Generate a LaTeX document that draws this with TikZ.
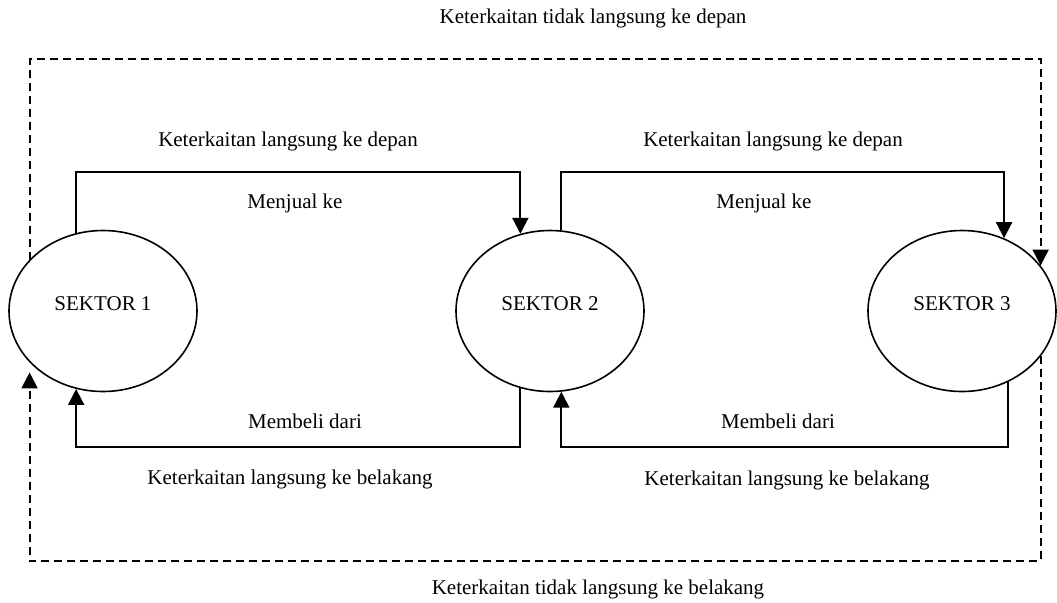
\documentclass[tikz,border=0pt]{standalone}
\usepackage{fontspec}
\setmainfont{Liberation Serif}
\usetikzlibrary{positioning,shapes.geometric,arrows.meta}

\tikzset{
  sektor/.style={ellipse, draw, line width=0.8pt, inner sep=0pt,
    minimum width=94pt, minimum height=80.5pt, text height=7pt, text depth=8pt},
  lbl/.style={inner sep=1pt, font=\fontsize{10.5}{12}\selectfont},
  tdk/.style={dash pattern=on 4pt off 2.5pt}
}

\begin{document}
\begin{tikzpicture}[x=0.5pt, y=-0.5pt, line width=1pt,
    >={Triangle[length=8pt,width=8pt]}, font=\fontsize{10.5}{12}\selectfont]
  \useasboundingbox (0,0) rectangle (1057,602);
  \node[sektor] (s1) at (103,311) {SEKTOR 1};
  \node[sektor] (s2) at (550,311) {SEKTOR 2};
  \node[sektor] (s3) at (962,311) {SEKTOR 3};
  \coordinate (atas12) at (300,172);
  \coordinate (atas23) at (780,172);
  \coordinate (bawah21) at (300,447);
  \coordinate (bawah32) at (780,447);
  \coordinate (atasT) at (540,59);
  \coordinate (bawahT) at (540,561);
  % keterkaitan langsung
  \draw[->] (s1.109) |- (atas12) -| (s2.111);
  \draw[->] (s2.82) |- (atas23) -| (s3.60);
  \draw[->] (s2.249) |- (bawah21) -| (s1.251);
  \draw[->] (s3.303) |- (bawah32) -| (s2.278);
  % keterkaitan tidak langsung
  \draw[->, tdk] (s1.145) |- (atasT) -| (s3.30);
  \draw[->, tdk, shorten >=5pt] (s3.330) |- (bawahT) -| (s1.215);
  % label
  \node[lbl] (tdep) at (593,18) {Keterkaitan tidak langsung ke depan};
  \node[lbl] (ldep1) at (288,141) {Keterkaitan langsung ke depan};
  \node[lbl] (ldep2) at (773,141) {Keterkaitan langsung ke depan};
  \node[lbl] (jual1) at (295,203) {Menjual ke};
  \node[lbl] (jual2) at (764,203) {Menjual ke};
  \node[lbl] (beli1) at (305,421) {Membeli dari};
  \node[lbl] (beli2) at (778,421) {Membeli dari};
  \node[lbl] (lbel1) at (290,479) {Keterkaitan langsung ke belakang};
  \node[lbl] (lbel2) at (787,480) {Keterkaitan langsung ke belakang};
  \node[lbl] (tbel) at (598,589) {Keterkaitan tidak langsung ke belakang};
\end{tikzpicture}
\end{document}
